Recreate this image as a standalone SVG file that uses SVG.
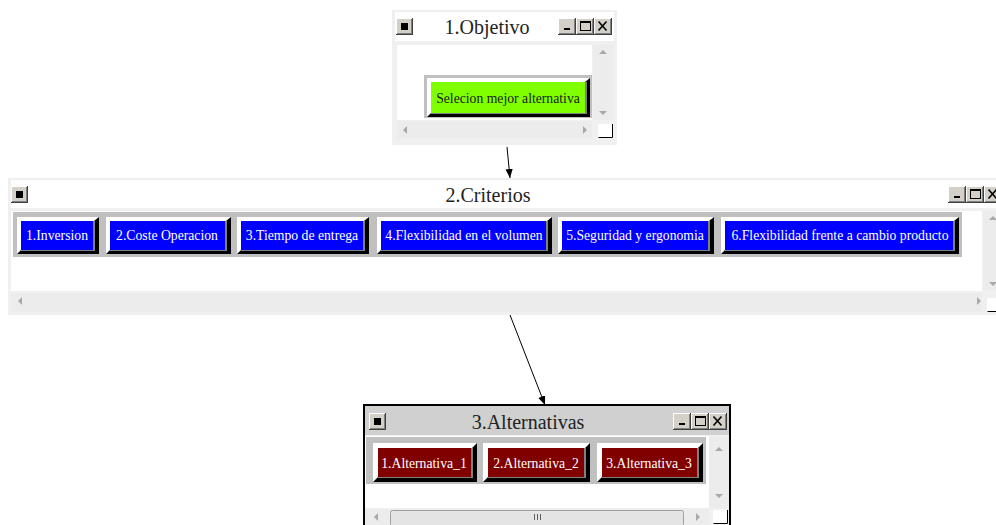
<svg xmlns="http://www.w3.org/2000/svg" width="996" height="525" viewBox="0 0 996 525">
  <defs>
    <style>
      .frame { fill: #f0f0f0; }
      .white { fill: #ffffff; }
      .strip { fill: #c0c0c0; }
      .sb { fill: #ececec; }
      .sys { fill: #d4d0c8; }
      .hi { fill: #ffffff; }
      .sh { fill: #000000; }
      .mid { fill: #808080; }
      .title { font-family: "Liberation Serif", "Times New Roman", serif; font-size: 20px; fill: #222; text-anchor: middle; }
      .btxt { font-family: "Liberation Serif", "Times New Roman", serif; font-size: 13.7px; fill: #ffffff; text-anchor: middle; }
      .gtxt { font-family: "Liberation Serif", "Times New Roman", serif; font-size: 13.7px; fill: #1a1a1a; text-anchor: middle; }
      .glyph { font-family: "DejaVu Sans", sans-serif; font-size: 13px; fill: #000; text-anchor: middle; }
      .arr { fill: #a8a8a8; }
      .conn { stroke: #000; stroke-width: 1; fill: none; marker-end: url(#head); }
    </style>
    <marker id="head" viewBox="0 0 10 10" refX="10" refY="5" markerWidth="9" markerHeight="9" orient="auto" markerUnits="userSpaceOnUse">
      <path d="M0,1 L10,5 L0,9 z" fill="#000"/>
    </marker>
    <!-- small system menu button (18x17) -->
    <g id="menuBtn">
      <rect x="0" y="0" width="17" height="17" fill="#404040"/>
      <rect x="0" y="0" width="16" height="16" fill="#ffffff"/>
      <rect x="1" y="1" width="15" height="15" fill="#808080"/>
      <rect x="1" y="1" width="14" height="14" fill="#d4d0c8"/>
      <rect x="5" y="5" width="7" height="7" fill="#000"/>
    </g>
    <!-- minimize / maximize / close cluster (54x17) -->
    <g id="winBtns">
      <rect x="0" y="0" width="18" height="17" fill="#404040"/>
      <rect x="0" y="0" width="17" height="16" fill="#fff"/>
      <rect x="1" y="1" width="16" height="15" fill="#808080"/>
      <rect x="1" y="1" width="15" height="14" fill="#d4d0c8"/>
      <rect x="6" y="10" width="6" height="2" fill="#000"/>
      <rect x="18" y="0" width="18" height="17" fill="#404040"/>
      <rect x="18" y="0" width="17" height="16" fill="#fff"/>
      <rect x="19" y="1" width="16" height="15" fill="#808080"/>
      <rect x="19" y="1" width="15" height="14" fill="#d4d0c8"/>
      <rect x="22.5" y="3.5" width="10" height="9" fill="none" stroke="#000" stroke-width="1"/>
      <rect x="22.5" y="3.5" width="10" height="1.5" fill="#000"/>
      <rect x="36" y="0" width="18" height="17" fill="#404040"/>
      <rect x="36" y="0" width="17" height="16" fill="#fff"/>
      <rect x="37" y="1" width="16" height="15" fill="#808080"/>
      <rect x="37" y="1" width="15" height="14" fill="#d4d0c8"/>
      <path d="M40.5,3.5 L48.5,12.5 M48.5,3.5 L40.5,12.5" stroke="#000" stroke-width="1.6"/>
    </g>
    <!-- size-grip box at scrollbar corner -->
    <g id="grip">
      <rect x="0" y="0" width="15" height="14" fill="#fff"/>
      <path d="M0.5,13.5 H14.5 V0" stroke="#000" stroke-width="1" fill="none"/>
    </g>
  </defs>

  <rect width="996" height="525" fill="#ffffff"/>

  <!-- connectors -->
  <g id="connectors">
    <line class="conn" x1="507" y1="147" x2="510" y2="178"/>
    <line class="conn" x1="510" y1="315" x2="545" y2="405"/>
  </g>

  <!-- 1. Objetivo window -->
  <g id="objetivo">
    <rect class="frame" x="392" y="10" width="225" height="135"/>
    <rect class="white" x="395" y="12" width="219" height="29"/>
    <use href="#menuBtn" x="396" y="18"/>
    <text class="title" x="487" y="34">1.Objetivo</text>
    <use href="#winBtns" x="558" y="18"/>
    <rect class="white" x="397" y="45" width="195" height="75"/>
    <rect class="sb" x="593" y="45" width="20" height="75"/>
    <path class="arr" d="M599,54 L603,50 L607,54 z"/>
    <path class="arr" d="M599,111 L603,115 L607,111 z"/>
    <rect class="sb" x="397" y="121" width="195" height="18"/>
    <path class="arr" d="M407,126 L403,130 L407,134 z"/>
    <path class="arr" d="M583,126 L587,130 L583,134 z"/>
    <use href="#grip" x="598" y="124"/>
    <!-- goal button -->
    <rect class="strip" x="424" y="75" width="168" height="43"/>
    <g id="goal-btn">
      <rect class="sh" x="427" y="78" width="163" height="39"/>
      <polygon class="hi" points="427,78 590,78 585,82 431,82 431,113 427,117"/>
      <rect class="mid" x="431" y="82" width="156" height="32"/>
      <rect x="431" y="82" width="154" height="31" fill="#80ff00"/>
      <text class="gtxt" x="508" y="103">Selecion mejor alternativa</text>
    </g>
  </g>

  <!-- 2. Criterios window -->
  <g id="criterios">
    <rect class="frame" x="8" y="178" width="988" height="137"/>
    <rect class="white" x="11" y="180" width="985" height="28"/>
    <use href="#menuBtn" x="11" y="186"/>
    <text class="title" x="488" y="202">2.Criterios</text>
    <use href="#winBtns" x="948" y="186"/>
    <rect class="white" x="11" y="211" width="971" height="80"/>
    <rect class="sb" x="983" y="211" width="13" height="80"/>
    <path class="arr" d="M989,220 L993,216 L997,220 z"/>
    <path class="arr" d="M989,282 L993,286 L997,282 z"/>
    <rect class="sb" x="11" y="293" width="971" height="19"/>
    <path class="arr" d="M22,297 L18,301 L22,305 z"/>
    <path class="arr" d="M977,297 L981,301 L977,305 z"/>
    <use href="#grip" x="987" y="298"/>
    <rect class="strip" x="13" y="212" width="949" height="45"/>
    <g id="c1">
      <rect class="sh" x="17" y="217" width="82" height="37"/>
      <polygon class="hi" points="17,217 99,217 94,221 21,221 21,250 17,254"/>
      <rect class="mid" x="21" y="221" width="74" height="30"/>
      <rect x="21" y="221" width="72" height="29" fill="#0000ff"/>
      <text class="btxt" x="57" y="240">1.Inversion</text>
    </g>
    <g id="c2">
      <rect class="sh" x="106" y="217" width="125" height="37"/>
      <polygon class="hi" points="106,217 231,217 226,221 110,221 110,250 106,254"/>
      <rect class="mid" x="110" y="221" width="117" height="30"/>
      <rect x="110" y="221" width="115" height="29" fill="#0000ff"/>
      <text class="btxt" x="167" y="240">2.Coste Operacion</text>
    </g>
    <g id="c3">
      <rect class="sh" x="237" y="217" width="132" height="37"/>
      <polygon class="hi" points="237,217 369,217 364,221 241,221 241,250 237,254"/>
      <rect class="mid" x="241" y="221" width="124" height="30"/>
      <rect x="241" y="221" width="122" height="29" fill="#0000ff"/>
      <text class="btxt" x="302" y="240">3.Tiempo de entrega</text>
    </g>
    <g id="c4">
      <rect class="sh" x="377" y="217" width="175" height="37"/>
      <polygon class="hi" points="377,217 552,217 547,221 381,221 381,250 377,254"/>
      <rect class="mid" x="381" y="221" width="167" height="30"/>
      <rect x="381" y="221" width="165" height="29" fill="#0000ff"/>
      <text class="btxt" x="464" y="240">4.Flexibilidad en el volumen</text>
    </g>
    <g id="c5">
      <rect class="sh" x="558" y="217" width="156" height="37"/>
      <polygon class="hi" points="558,217 714,217 709,221 562,221 562,250 558,254"/>
      <rect class="mid" x="562" y="221" width="148" height="30"/>
      <rect x="562" y="221" width="146" height="29" fill="#0000ff"/>
      <text class="btxt" x="635" y="240">5.Seguridad y ergonomia</text>
    </g>
    <g id="c6">
      <rect class="sh" x="721" y="217" width="238" height="37"/>
      <polygon class="hi" points="721,217 959,217 954,221 725,221 725,250 721,254"/>
      <rect class="mid" x="725" y="221" width="230" height="30"/>
      <rect x="725" y="221" width="228" height="29" fill="#0000ff"/>
      <text class="btxt" x="840" y="240">6.Flexibilidad frente a cambio producto</text>
    </g>
  </g>

  <!-- 3. Alternativas window -->
  <g id="alternativas">
    <rect x="364" y="405" width="366" height="122" fill="#f0f0f0" stroke="#000" stroke-width="2"/>
    <rect x="365" y="406" width="364" height="29" fill="#d0d0d0"/>
    <use href="#menuBtn" x="369" y="413"/>
    <text class="title" x="528" y="429">3.Alternativas</text>
    <use href="#winBtns" x="673" y="413"/>
    <rect class="white" x="365" y="436" width="344" height="72"/>
    <rect class="sb" x="709" y="436" width="20" height="72"/>
    <path class="arr" d="M715,451 L719,447 L723,451 z"/>
    <path class="arr" d="M715,494 L719,498 L723,494 z"/>
    <rect class="sb" x="365" y="509" width="344" height="16"/>
    <path class="arr" d="M378,513 L374,517 L378,521 z"/>
    <path class="arr" d="M696,513 L700,517 L696,521 z"/>
    <rect x="390.5" y="510.5" width="293" height="16" rx="2" fill="#e4e4e4" stroke="#a0a0a0" stroke-width="1"/>
    <path d="M534.5,514 V520 M537.5,514 V520 M540.5,514 V520" stroke="#606060" stroke-width="1"/>
    <use href="#grip" x="713" y="510"/>
    <rect class="strip" x="366" y="437" width="340" height="47"/>
    <g id="a1">
      <rect class="sh" x="373" y="443" width="104" height="39"/>
      <polygon class="hi" points="373,443 477,443 472,448 378,448 378,477 373,482"/>
      <rect class="mid" x="378" y="448" width="95" height="30"/>
      <rect x="378" y="448" width="93" height="29" fill="#800000"/>
      <text class="btxt" x="424" y="468">1.Alternativa_1</text>
    </g>
    <g id="a2">
      <rect class="sh" x="483" y="443" width="107" height="39"/>
      <polygon class="hi" points="483,443 590,443 585,448 488,448 488,477 483,482"/>
      <rect class="mid" x="488" y="448" width="98" height="30"/>
      <rect x="488" y="448" width="96" height="29" fill="#800000"/>
      <text class="btxt" x="536" y="468">2.Alternativa_2</text>
    </g>
    <g id="a3">
      <rect class="sh" x="597" y="443" width="106" height="39"/>
      <polygon class="hi" points="597,443 703,443 698,448 602,448 602,477 597,482"/>
      <rect class="mid" x="602" y="448" width="97" height="30"/>
      <rect x="602" y="448" width="95" height="29" fill="#800000"/>
      <text class="btxt" x="649" y="468">3.Alternativa_3</text>
    </g>
  </g>
</svg>
